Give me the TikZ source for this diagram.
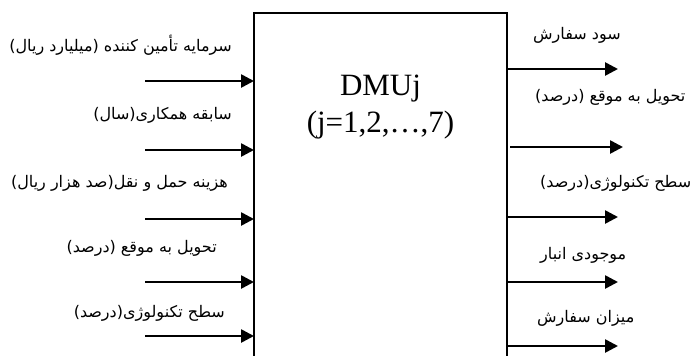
\documentclass[tikz,border=0pt]{standalone}
\usepackage{fontspec}
\setmainfont{Liberation Serif}
\newfontfamily\farsi[Script=Arabic]{DejaVu Sans}
\TeXXeTstate=1
\usetikzlibrary{arrows.meta}
\newcommand{\fa}[1]{\beginR #1\endR}

\begin{document}
\begin{tikzpicture}[x=1pt, y=-1pt,
  io/.style={line width=2.6pt, -{Triangle[length=13pt, width=13pt]}},
  lblin/.style={anchor=east, inner sep=0pt, font=\farsi\fontsize{16}{18}\selectfont},
  lblout/.style={anchor=west, inner sep=0pt, font=\farsi\fontsize{16}{18}\selectfont}]
  \useasboundingbox (0,0) rectangle (691,356);
  \coordinate (BL) at (254,356); %box bottom left
  \coordinate (TL) at (254,13); %box top left
  \coordinate (TR) at (507,13); %box top right
  \coordinate (BR) at (507,356); %box bottom right
  \draw[line width=1.8pt] (BL)--(TL)--(TR)--(BR); %box
  \node[anchor=base, inner sep=0pt, font=\fontsize{31}{37}\selectfont] (dmu) at (380.5,95) {DMUj};
  \node[anchor=base, inner sep=0pt, font=\fontsize{31}{37}\selectfont] (dmuidx) at (380.5,132) {(j=1,2,\ldots,7)};
  % inputs
  \coordinate (in1s) at (145,81); \coordinate (in1e) at (254,81);
  \coordinate (in2s) at (145,150); \coordinate (in2e) at (254,150);
  \coordinate (in3s) at (145,219); \coordinate (in3e) at (254,219);
  \coordinate (in4s) at (145,282); \coordinate (in4e) at (254,282);
  \coordinate (in5s) at (145,336); \coordinate (in5e) at (254,336);
  \draw[io] (in1s)--(in1e);
  \draw[io] (in2s)--(in2e);
  \draw[io] (in3s)--(in3e);
  \draw[io] (in4s)--(in4e);
  \draw[io] (in5s)--(in5e);
  \node[lblin] (capital) at (232,45) {\fa{سرمایه تأمین کننده (میلیارد ریال)}};
  \node[lblin] (history) at (232,115) {\fa{سابقه همکاری(سال)}};
  \node[lblin] (transport) at (228,183) {\fa{هزینه حمل و نقل(صد هزار ریال)}};
  \node[lblin] (ontimein) at (217,248) {\fa{تحویل به موقع (درصد)}};
  \node[lblin] (techin) at (225,313) {\fa{سطح تکنولوژی(درصد)}};
  % outputs
  \coordinate (out1s) at (507,69); \coordinate (out1e) at (618,69);
  \coordinate (out2s) at (510,147); \coordinate (out2e) at (623,147);
  \coordinate (out3s) at (507,217); \coordinate (out3e) at (618,217);
  \coordinate (out4s) at (507,282); \coordinate (out4e) at (618,282);
  \coordinate (out5s) at (507,346); \coordinate (out5e) at (618,346);
  \draw[io] (out1s)--(out1e);
  \draw[io] (out2s)--(out2e);
  \draw[io] (out3s)--(out3e);
  \draw[io] (out4s)--(out4e);
  \draw[io] (out5s)--(out5e);
  \node[lblout] (profit) at (533,35) {\fa{سود سفارش}};
  \node[lblout] (ontimeout) at (535,97) {\fa{تحویل به موقع (درصد)}};
  \node[lblout] (techout) at (540,183) {\fa{سطح تکنولوژی(درصد)}};
  \node[lblout] (stock) at (540,255) {\fa{موجودی انبار}};
  \node[lblout] (order) at (537,318) {\fa{میزان سفارش}};
\end{tikzpicture}
\end{document}
